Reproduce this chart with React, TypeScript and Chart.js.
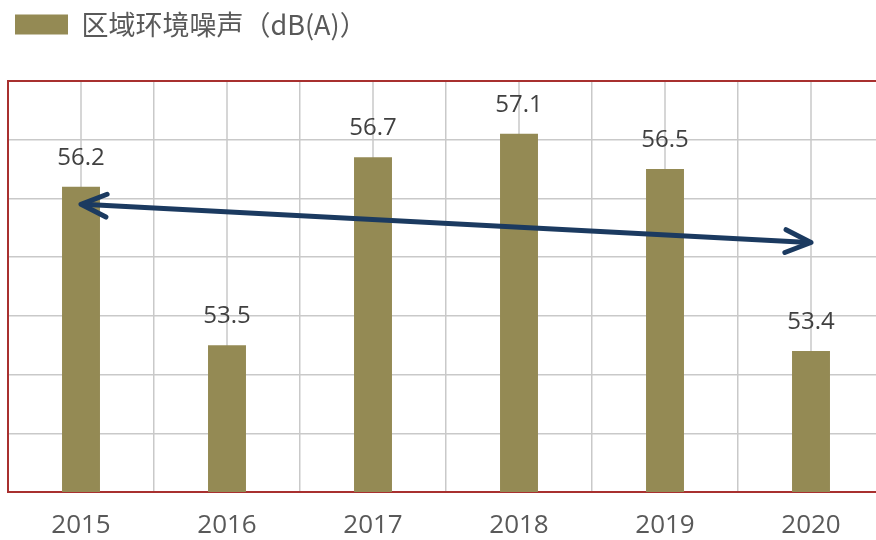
import React, { useEffect, useRef } from "react";
import { Chart, registerables } from "chart.js";

Chart.register(...registerables);

const categories = ["2015", "2016", "2017", "2018", "2019", "2020"];
const noiseValues = [56.2, 53.5, 56.7, 57.1, 56.5, 53.4];
const seriesLabel = "区域环境噪声（dB(A)）";
const yMin = 51;
const yMax = 58;
const yStep = 1;
// trend arrow: value at first category and at last category
const trendArrow = [55.9, 55.25];

const BAR_COLOR = "#948A54";
const BORDER_RED = "#A8302F";
const GRID_GRAY = "#C9C9C9";
const ARROW_NAVY = "#1B3A60";
const FONT = '"Open Sans", "Noto Sans CJK SC", sans-serif';

const frameAndGridPlugin = {
  id: "frameAndGrid",
  beforeDatasetsDraw(chart: any) {
    const { ctx, chartArea, scales } = chart;
    const xs = scales.x;
    ctx.save();
    ctx.strokeStyle = GRID_GRAY;
    ctx.lineWidth = 1.5;
    for (let i = 0; i < categories.length; i++) {
      const x = xs.getPixelForValue(i);
      ctx.beginPath();
      ctx.moveTo(x, chartArea.top);
      ctx.lineTo(x, chartArea.bottom);
      ctx.stroke();
    }
    ctx.strokeStyle = BORDER_RED;
    ctx.lineWidth = 2;
    ctx.strokeRect(chartArea.left, chartArea.top, chartArea.right - chartArea.left, chartArea.bottom - chartArea.top);
    ctx.restore();
  },
};

const labelsAndArrowPlugin = {
  id: "labelsAndArrow",
  afterDatasetsDraw(chart: any) {
    const { ctx, scales } = chart;
    const meta = chart.getDatasetMeta(0);
    ctx.save();
    ctx.font = `24px ${FONT}`;
    ctx.fillStyle = "#404040";
    ctx.textAlign = "center";
    ctx.textBaseline = "alphabetic";
    meta.data.forEach((bar: any, i: number) => {
      ctx.fillText(String(noiseValues[i].toFixed(1)), bar.x, bar.y - 22);
    });

    const x1 = scales.x.getPixelForValue(0);
    const y1 = scales.y.getPixelForValue(trendArrow[0]);
    const x2 = scales.x.getPixelForValue(categories.length - 1);
    const y2 = scales.y.getPixelForValue(trendArrow[1]);
    ctx.strokeStyle = ARROW_NAVY;
    ctx.lineWidth = 5;
    ctx.lineCap = "round";
    ctx.lineJoin = "round";
    ctx.beginPath();
    ctx.moveTo(x1 + 2, y1);
    ctx.lineTo(x2 - 2, y2);
    ctx.stroke();
    const ang = Math.atan2(y2 - y1, x2 - x1);
    const headLen = 28;
    const spread = 0.42;
    const head = (tx: number, ty: number, a: number) => {
      ctx.beginPath();
      ctx.moveTo(tx - headLen * Math.cos(a - spread), ty - headLen * Math.sin(a - spread));
      ctx.lineTo(tx, ty);
      ctx.lineTo(tx - headLen * Math.cos(a + spread), ty - headLen * Math.sin(a + spread));
      ctx.stroke();
    };
    head(x2, y2, ang);
    head(x1, y1, ang + Math.PI);
    ctx.restore();
  },
};

const legendSpacePlugin = {
  id: "legendSpace",
  beforeInit(chart: any) {
    const legend = chart.legend;
    if (!legend) return;
    const origFit = legend.fit;
    legend.fit = function () {
      origFit.call(this);
      this.height += 33;
    };
  },
};

export default function App() {
  const canvasRef = useRef<HTMLCanvasElement | null>(null);

  useEffect(() => {
    if (!canvasRef.current) return;
    const chart = new Chart(canvasRef.current, {
      type: "bar",
      data: {
        labels: categories,
        datasets: [
          {
            label: seriesLabel,
            data: noiseValues,
            backgroundColor: BAR_COLOR,
            borderWidth: 0,
            barPercentage: 0.26,
            categoryPercentage: 1,
          },
        ],
      },
      options: {
        responsive: false,
        animation: false,
        devicePixelRatio: 1,
        layout: { padding: { left: 8, right: 0, top: 4, bottom: 0 } },
        plugins: {
          legend: {
            display: true,
            position: "top",
            align: "start",
            labels: {
              boxWidth: 53,
              boxHeight: 20,
              padding: 7,
              color: "#595959",
              font: { size: 27, family: '"Noto Sans CJK SC", sans-serif' },
            },
          },
          tooltip: { enabled: false },
        },
        scales: {
          x: {
            offset: true,
            grid: { offset: true, color: GRID_GRAY, lineWidth: 1.5, drawTicks: false },
            border: { display: false },
            ticks: { color: "#595959", font: { size: 26, family: FONT }, padding: 18 },
            afterFit(scale: any) {
              scale.height = 48;
            },
          },
          y: {
            min: yMin,
            max: yMax,
            grid: { color: GRID_GRAY, lineWidth: 1.5, drawTicks: false },
            border: { display: false },
            ticks: { display: false, stepSize: yStep },
          },
        },
      },
      plugins: [legendSpacePlugin, frameAndGridPlugin, labelsAndArrowPlugin],
    });
    return () => chart.destroy();
  }, []);

  return (
    <div style={{ position: "fixed", left: 0, top: 0, width: 876, height: 540, overflow: "hidden", background: "#fff" }}>
      <canvas ref={canvasRef} width={884} height={540} style={{ display: "block" }} />
    </div>
  );
}
